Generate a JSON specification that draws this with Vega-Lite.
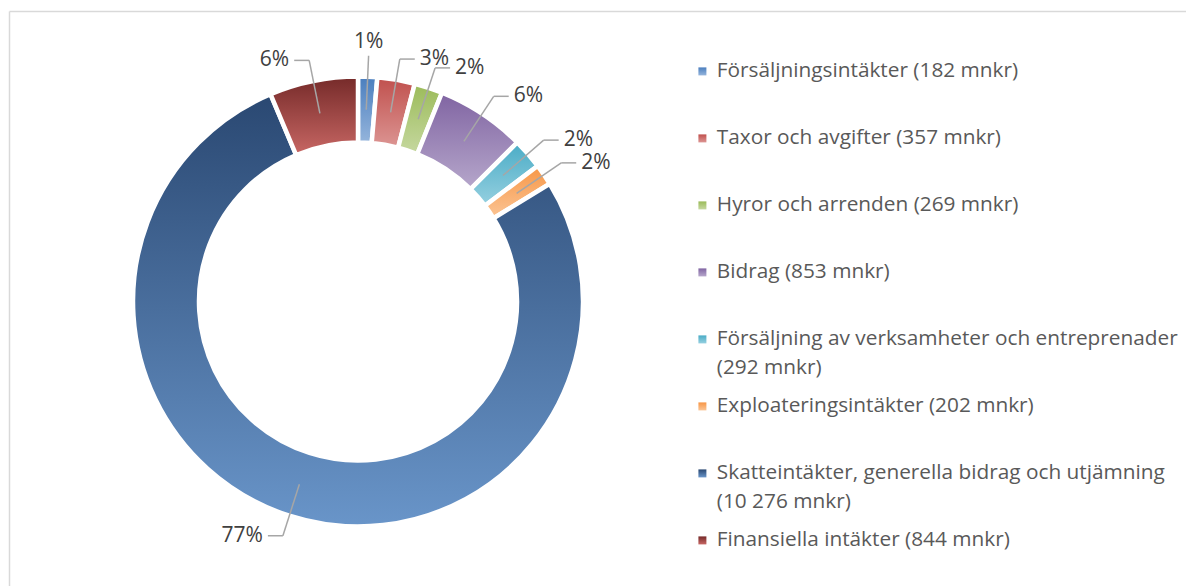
{
  "$schema": "https://vega.github.io/schema/vega-lite/v6.json",
  "width": 1177,
  "height": 575,
  "padding": {"left": 9, "top": 11, "right": 0, "bottom": 0},
  "autosize": {"type": "none"},
  "background": "white",
  "config": {"view": {"stroke": null}, "font": "Open Sans", "style": {"guide-label": {"lineHeight": 29}}},
  "data": {
    "values": [
      {"nr": 1, "kategori": "Försäljningsintäkter (182 mnkr)", "mnkr": 182},
      {"nr": 2, "kategori": "Taxor och avgifter  (357 mnkr)", "mnkr": 357},
      {"nr": 3, "kategori": "Hyror och arrenden  (269 mnkr)", "mnkr": 269},
      {"nr": 4, "kategori": "Bidrag (853 mnkr)", "mnkr": 853},
      {"nr": 5, "kategori": "Försäljning av verksamheter och entreprenader (292 mnkr)", "mnkr": 292},
      {"nr": 6, "kategori": "Exploateringsintäkter (202 mnkr)", "mnkr": 202},
      {"nr": 7, "kategori": "Skatteintäkter, generella bidrag och utjämning (10 276 mnkr)", "mnkr": 10276},
      {"nr": 8, "kategori": "Finansiella intäkter (844 mnkr)", "mnkr": 844}
    ]
  },
  "layer": [
    {
      "mark": {"type": "arc", "outerRadius": 225, "innerRadius": 159, "stroke": "white", "strokeWidth": 4.5},
      "encoding": {
        "x": {"datum": 0, "type": "quantitative", "scale": {"domain": [-349, 828], "nice": false, "zero": false}, "axis": {"orient": "top", "labels": false, "ticks": false, "grid": false, "title": null, "domainColor": "#d9d9d9", "domainWidth": 1.5}},
        "y": {"datum": 0, "type": "quantitative", "scale": {"domain": [-284.5, 290.5], "nice": false, "zero": false}, "axis": {"orient": "left", "labels": false, "ticks": false, "grid": false, "title": null, "domainColor": "#d9d9d9", "domainWidth": 1.5}},
        "theta": {"field": "mnkr", "type": "quantitative", "stack": true},
        "order": {"field": "nr", "type": "quantitative"},
        "color": {
          "field": "kategori",
          "type": "nominal",
          "sort": {"field": "nr", "op": "min"},
          "scale": {
            "range": [
              {"expr": "{gradient: 'linear', x1: 0, y1: 0, x2: 0, y2: 1, stops: [{offset: 0, color: '#4a7ebe'}, {offset: 1, color: '#95b5dc'}]}"},
              {"expr": "{gradient: 'linear', x1: 0, y1: 0, x2: 0, y2: 1, stops: [{offset: 0, color: '#c0504d'}, {offset: 1, color: '#dc9593'}]}"},
              {"expr": "{gradient: 'linear', x1: 0, y1: 0, x2: 0, y2: 1, stops: [{offset: 0, color: '#9bbb59'}, {offset: 1, color: '#c6d8a0'}]}"},
              {"expr": "{gradient: 'linear', x1: 0, y1: 0, x2: 0, y2: 1, stops: [{offset: 0, color: '#8064a2'}, {offset: 1, color: '#b6a7cb'}]}"},
              {"expr": "{gradient: 'linear', x1: 0, y1: 0, x2: 0, y2: 1, stops: [{offset: 0, color: '#4aacc6'}, {offset: 1, color: '#96d0e0'}]}"},
              {"expr": "{gradient: 'linear', x1: 0, y1: 0, x2: 0, y2: 1, stops: [{offset: 0, color: '#f79646'}, {offset: 1, color: '#fbc595'}]}"},
              {"expr": "{gradient: 'linear', x1: 0, y1: 0, x2: 0, y2: 1, stops: [{offset: 0, color: '#2a4872'}, {offset: 1, color: '#6995c9'}]}"},
              {"expr": "{gradient: 'linear', x1: 0, y1: 0, x2: 0, y2: 1, stops: [{offset: 0, color: '#752a29'}, {offset: 1, color: '#c86764'}]}"}
            ]
          },
          "legend": {
            "orient": "none",
            "legendX": 683,
            "legendY": 50,
            "title": null,
            "direction": "vertical",
            "symbolType": "square",
            "symbolSize": 64,
            "symbolStrokeWidth": 0,
            "labelFont": "Open Sans",
            "labelFontSize": 20.8,
            "labelColor": "#595959",
            "labelLimit": 600,
            "labelOffset": 4,
            "labelBaseline": "middle",
            "gridAlign": "all",
            "rowPadding": 16,
            "padding": 0,
            "labelExpr": "length(datum.label) > 40 ? [substring(datum.label, 0, lastindexof(datum.label, ' (')), substring(datum.label, lastindexof(datum.label, ' (') + 1)] : datum.label"
          }
        }
      }
    },
    {
      "transform": [
        {"joinaggregate": [{"op": "sum", "field": "mnkr", "as": "totalt"}]},
        {"window": [{"op": "sum", "field": "mnkr", "as": "kum"}], "sort": [{"field": "nr", "order": "ascending"}]},
        {"calculate": "2 * PI * (datum.kum - datum.mnkr / 2) / datum.totalt", "as": "vinkel"},
        {"calculate": "datum.mnkr / datum.totalt", "as": "andel"},
        {"calculate": "abs(sin(datum.vinkel)) < 0.1 ? 0 : (sin(datum.vinkel) > 0 ? 1 : -1)", "as": "sida"},
        {"calculate": "192 * sin(datum.vinkel)", "as": "ax"},
        {"calculate": "192 * cos(datum.vinkel)", "as": "ay"},
        {"calculate": "246 * sin(datum.vinkel)", "as": "bx"},
        {"calculate": "246 * cos(datum.vinkel)", "as": "by"},
        {"calculate": "datum.bx + 15 * datum.sida", "as": "cx"},
        {"calculate": "datum.cx + 5 * datum.sida", "as": "tx"},
        {"calculate": "datum.sida == 0 ? datum.by + 14 * (cos(datum.vinkel) > 0 ? 1 : -1) : datum.by", "as": "ty"}
      ],
      "layer": [
        {
          "mark": {"type": "rule", "color": "#a6a6a6", "strokeWidth": 1.5},
          "encoding": {
            "x": {"field": "ax", "type": "quantitative", "scale": {"domain": [-349, 828], "nice": false, "zero": false}, "axis": {"orient": "top", "labels": false, "ticks": false, "grid": false, "title": null, "domainColor": "#d9d9d9", "domainWidth": 1.5}},
            "y": {"field": "ay", "type": "quantitative", "scale": {"domain": [-284.5, 290.5], "nice": false, "zero": false}, "axis": {"orient": "left", "labels": false, "ticks": false, "grid": false, "title": null, "domainColor": "#d9d9d9", "domainWidth": 1.5}},
            "x2": {"field": "bx"},
            "y2": {"field": "by"}
          }
        },
        {
          "transform": [{"filter": "datum.sida != 0"}],
          "mark": {"type": "rule", "color": "#a6a6a6", "strokeWidth": 1.5},
          "encoding": {
            "x": {"field": "bx", "type": "quantitative", "scale": {"domain": [-349, 828], "nice": false, "zero": false}, "axis": {"orient": "top", "labels": false, "ticks": false, "grid": false, "title": null, "domainColor": "#d9d9d9", "domainWidth": 1.5}},
            "y": {"field": "by", "type": "quantitative", "scale": {"domain": [-284.5, 290.5], "nice": false, "zero": false}, "axis": {"orient": "left", "labels": false, "ticks": false, "grid": false, "title": null, "domainColor": "#d9d9d9", "domainWidth": 1.5}},
            "x2": {"field": "cx"}
          }
        },
        {
          "mark": {"type": "text", "font": "Open Sans", "fontSize": 21, "color": "#404040", "baseline": "middle", "align": {"expr": "datum.sida > 0 ? 'left' : (datum.sida < 0 ? 'right' : 'center')"}},
          "encoding": {
            "x": {"field": "tx", "type": "quantitative", "scale": {"domain": [-349, 828], "nice": false, "zero": false}, "axis": {"orient": "top", "labels": false, "ticks": false, "grid": false, "title": null, "domainColor": "#d9d9d9", "domainWidth": 1.5}},
            "y": {"field": "ty", "type": "quantitative", "scale": {"domain": [-284.5, 290.5], "nice": false, "zero": false}, "axis": {"orient": "left", "labels": false, "ticks": false, "grid": false, "title": null, "domainColor": "#d9d9d9", "domainWidth": 1.5}},
            "text": {"field": "andel", "type": "quantitative", "format": ".0%"}
          }
        }
      ]
    }
  ]
}
